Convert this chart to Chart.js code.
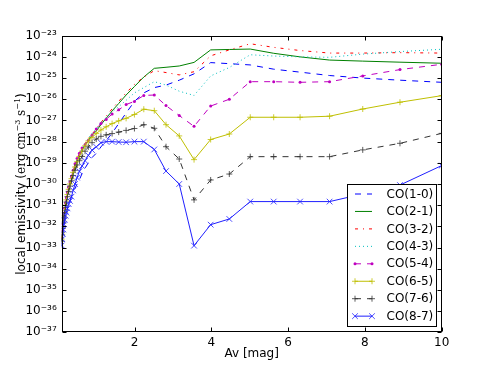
<!DOCTYPE html>
<html>
<head>
<meta charset="utf-8">
<script src="https://cdn.jsdelivr.net/npm/chart.js@4/dist/chart.umd.min.js"></script>
<style>
html,body{margin:0;padding:0;background:#fff;}
#wrap{width:491px;height:370px;position:relative;}
</style>
</head>
<body>
<div id="wrap"><canvas id="c" width="491" height="370"></canvas></div>
<script>
// Av [mag] sample points
const avMag = [0.1, 0.112, 0.126, 0.141, 0.158, 0.178, 0.2, 0.224, 0.251, 0.282, 0.316, 0.355, 0.398, 0.447, 0.501, 0.562, 0.631, 0.708, 0.794, 0.891, 1.0, 1.122, 1.259, 1.413, 1.585, 1.778, 1.995, 2.239, 2.512, 2.818, 3.162, 3.548, 3.981, 4.467, 5.012, 5.623, 6.31, 7.079, 7.943, 8.913, 10.0];

// log10 of local emissivity (erg cm^-3 s^-1)
const co10 = [-33.0,-32.7,-32.45,-32.2,-31.95,-31.75,-31.55,-31.35,-31.15,-30.95,-30.8,-30.6,-30.4,-30.2,-30.0,-29.8,-29.5,-29.25,-29.0,-28.75,-28.55,-28.25,-27.95,-27.6,-27.15,-26.65,-26.1,-25.7,-25.45,-25.33,-25.1,-24.8,-24.27,-24.32,-24.38,-24.58,-24.72,-24.88,-25.0,-25.1,-25.2];
const co21 = [-32.7,-32.35,-32.05,-31.8,-31.55,-31.3,-31.05,-30.8,-30.55,-30.3,-30.05,-29.8,-29.5,-29.2,-28.9,-28.65,-28.4,-28.15,-27.95,-27.7,-27.5,-27.2,-26.9,-26.55,-26.2,-25.8,-25.4,-24.95,-24.54,-24.49,-24.43,-24.26,-23.67,-23.65,-23.63,-23.83,-24.0,-24.15,-24.2,-24.25,-24.3];
const co32 = [-32.6,-32.25,-31.95,-31.7,-31.45,-31.2,-30.95,-30.7,-30.45,-30.2,-29.95,-29.7,-29.4,-29.1,-28.85,-28.6,-28.3,-28.1,-27.85,-27.65,-27.4,-27.1,-26.8,-26.45,-26.1,-25.7,-25.3,-24.95,-24.65,-24.74,-24.85,-24.7,-23.95,-23.67,-23.38,-23.55,-23.7,-23.82,-23.82,-23.8,-23.82];
const co43 = [-32.65,-32.3,-32.0,-31.75,-31.5,-31.25,-31.0,-30.75,-30.5,-30.25,-30.0,-29.75,-29.45,-29.15,-28.9,-28.6,-28.35,-28.1,-27.85,-27.6,-27.4,-27.1,-26.85,-26.6,-26.35,-26.05,-25.7,-25.45,-25.17,-25.33,-25.62,-25.82,-24.9,-24.5,-23.9,-23.96,-24.0,-24.02,-23.87,-23.75,-23.64];
const co54 = [-32.55,-32.2,-31.9,-31.65,-31.4,-31.15,-30.9,-30.65,-30.4,-30.15,-29.9,-29.65,-29.35,-29.05,-28.8,-28.55,-28.3,-28.15,-27.95,-27.7,-27.4,-27.15,-26.95,-26.7,-26.5,-26.25,-26.1,-25.82,-25.8,-26.3,-26.77,-27.28,-26.32,-26.0,-25.17,-25.17,-25.2,-25.17,-24.9,-24.6,-24.35];
const co65 = [-32.6,-32.3,-32.0,-31.75,-31.5,-31.25,-31.0,-30.75,-30.5,-30.25,-30.0,-29.75,-29.45,-29.2,-28.95,-28.7,-28.45,-28.2,-27.97,-27.8,-27.62,-27.45,-27.3,-27.15,-27.02,-26.9,-26.72,-26.47,-26.54,-27.2,-27.73,-28.85,-27.9,-27.64,-26.85,-26.85,-26.85,-26.8,-26.46,-26.14,-25.83];
const co76 = [-32.7,-32.4,-32.1,-31.85,-31.6,-31.35,-31.1,-30.85,-30.6,-30.35,-30.1,-29.85,-29.6,-29.35,-29.1,-28.9,-28.7,-28.45,-28.25,-28.05,-27.88,-27.75,-27.68,-27.62,-27.55,-27.47,-27.38,-27.2,-27.37,-28.24,-28.82,-30.75,-29.81,-29.53,-28.71,-28.71,-28.71,-28.71,-28.39,-28.08,-27.61];
const co87 = [-32.9,-32.6,-32.35,-32.15,-31.9,-31.7,-31.5,-31.35,-31.15,-30.95,-30.8,-30.6,-30.3,-30.0,-29.7,-29.4,-29.15,-28.9,-28.65,-28.4,-28.25,-28.05,-28.0,-28.0,-28.02,-28.03,-28.0,-28.0,-28.37,-29.39,-30.0,-32.91,-31.92,-31.65,-30.83,-30.83,-30.83,-30.83,-30.47,-30.05,-29.13];

const seriesNames = ['CO(1-0)','CO(2-1)','CO(3-2)','CO(4-3)','CO(5-4)','CO(6-5)','CO(7-6)','CO(8-7)'];
const xTicks = [2, 4, 6, 8, 10];
const yTickExp = [-37,-36,-35,-34,-33,-32,-31,-30,-29,-28,-27,-26,-25,-24,-23];
const yTickLabels = ['10⁻³⁷','10⁻³⁶','10⁻³⁵','10⁻³⁴','10⁻³³','10⁻³²','10⁻³¹','10⁻³⁰','10⁻²⁹','10⁻²⁸','10⁻²⁷','10⁻²⁶','10⁻²⁵','10⁻²⁴','10⁻²³'];
const xTitle = 'Av [mag]';

const seriesLog = [co10, co21, co32, co43, co54, co65, co76, co87];

const styles = [
  {color:'#0000ff', dash:[6,6], point:null},
  {color:'#008000', dash:[], point:null},
  {color:'#ff0000', dash:[3,5,1,5], point:null},
  {color:'#00bfbf', dash:[1,3], point:null},
  {color:'#bf00bf', dash:[6,6], point:'circle', r:1.5},
  {color:'#bfbf00', dash:[], point:'cross', r:3},
  {color:'#333333', dash:[6,6], point:'cross', r:3},
  {color:'#2020ff', dash:[], point:'crossRot', r:4}
];

const FONT = '"DejaVu Sans", sans-serif';

const datasets = seriesNames.map((name, i) => {
  const st = styles[i];
  return {
    label: name,
    data: avMag.map((x, j) => ({x: x, y: Math.pow(10, seriesLog[i][j])})),
    borderColor: st.color,
    backgroundColor: st.color,
    borderWidth: 1,
    borderDash: st.dash,
    tension: 0,
    fill: false,
    pointStyle: st.point || 'circle',
    pointRadius: st.point ? st.r : 0,
    pointHoverRadius: 0,
    pointBorderWidth: st.point === 'circle' ? 0 : 0.8,
    pointBorderColor: st.color,
    pointBackgroundColor: st.color,
    order: seriesNames.length - i
  };
});

function drawMarker(ctx, style, r, x, y, color) {
  ctx.save();
  ctx.setLineDash([]);
  ctx.strokeStyle = color; ctx.fillStyle = color; ctx.lineWidth = 0.8;
  ctx.beginPath();
  if (style === 'circle') {
    ctx.arc(x, y, r, 0, Math.PI * 2); ctx.fill();
  } else if (style === 'cross') {
    ctx.moveTo(x - r, y); ctx.lineTo(x + r, y);
    ctx.moveTo(x, y - r); ctx.lineTo(x, y + r); ctx.stroke();
  } else if (style === 'crossRot') {
    const d = r * Math.SQRT1_2;
    ctx.moveTo(x - d, y - d); ctx.lineTo(x + d, y + d);
    ctx.moveTo(x - d, y + d); ctx.lineTo(x + d, y - d); ctx.stroke();
  }
  ctx.restore();
}

const decor = {
  id: 'decor',
  afterDatasetsDraw(chart) {
    const ctx = chart.ctx;
    // legend
    const bx = 347.5, by = 184.5, bw = 89, bh = 142;
    ctx.save();
    ctx.fillStyle = '#fff';
    ctx.fillRect(bx, by, bw, bh);
    ctx.strokeStyle = '#000'; ctx.lineWidth = 1; ctx.setLineDash([]);
    ctx.strokeRect(bx, by, bw, bh);
    chart.data.datasets.forEach((ds, i) => {
      const st = styles[i];
      const y = 194 + i * 17.45;
      const x0 = 355, x1 = 372;
      ctx.save();
      ctx.strokeStyle = st.color; ctx.lineWidth = 1; ctx.setLineDash(st.dash);
      ctx.beginPath(); ctx.moveTo(x0, y); ctx.lineTo(x1, y); ctx.stroke();
      ctx.restore();
      if (st.point) { drawMarker(ctx, st.point, st.r, x0, y, st.color); drawMarker(ctx, st.point, st.r, x1, y, st.color); }
      ctx.fillStyle = '#000';
      ctx.font = '12px ' + FONT;
      ctx.textBaseline = 'middle'; ctx.textAlign = 'left';
      ctx.fillText(ds.label, 386.5, y + 0.5);
    });
    ctx.restore();
  },
  afterDraw(chart) {
    const ctx = chart.ctx;
    const a = chart.chartArea;
    const xs = chart.scales.x, ys = chart.scales.y;
    ctx.save();
    ctx.strokeStyle = '#000'; ctx.lineWidth = 1; ctx.setLineDash([]);
    const L = Math.round(a.left) + 0.5, R = Math.round(a.right) - 0.5, T = Math.round(a.top) + 0.5, B = Math.round(a.bottom) - 0.5;
    ctx.strokeRect(L, T, R - L, B - T);
    ctx.beginPath();
    xTicks.forEach(v => {
      const px = Math.round(xs.getPixelForValue(v)) + 0.5;
      ctx.moveTo(px, B); ctx.lineTo(px, B - 4);
      ctx.moveTo(px, T); ctx.lineTo(px, T + 4);
    });
    yTickExp.forEach(e => {
      const py = Math.round(ys.getPixelForValue(Math.pow(10, e))) + 0.5;
      ctx.moveTo(L, py); ctx.lineTo(L + 4, py);
      ctx.moveTo(R, py); ctx.lineTo(R - 4, py);
    });
    ctx.stroke();
    // y axis title (mixed fonts)
    const runs = [
      {t:'local emissivity (', f:'12px ' + FONT, dy:0},
      {t:'erg cm', f:'12px "DejaVu Serif", serif', dy:0},
      {t:'−3', f:'8px "DejaVu Serif", serif', dy:-5},
      {t:' s', f:'12px "DejaVu Serif", serif', dy:0},
      {t:'−1', f:'8px "DejaVu Serif", serif', dy:-5},
      {t:')', f:'12px ' + FONT, dy:0}
    ];
    let total = 0;
    runs.forEach(r => { ctx.font = r.f; r.w = ctx.measureText(r.t).width; total += r.w; });
    ctx.translate(24.5, (a.top + a.bottom) / 2);
    ctx.rotate(-Math.PI / 2);
    ctx.fillStyle = '#000'; ctx.textBaseline = 'alphabetic'; ctx.textAlign = 'left';
    let cx = -total / 2;
    runs.forEach(r => { ctx.font = r.f; ctx.fillText(r.t, cx, r.dy); cx += r.w; });
    ctx.restore();
  }
};

new Chart(document.getElementById('c'), {
  type: 'line',
  data: { datasets },
  options: {
    responsive: false,
    animation: false,
    devicePixelRatio: 1,
    layout: { padding: { left: 0, top: 35.7, right: 49.3, bottom: 0 } },
    plugins: { legend: { display: false }, tooltip: { enabled: false } },
    scales: {
      x: {
        type: 'linear', min: 0.1, max: 10,
        afterBuildTicks: s => { s.ticks = xTicks.map(v => ({value: v})); },
        afterFit: s => { s.height = 37.7; },
        grid: { display: false, drawTicks: false },
        border: { display: false },
        ticks: { color: '#000', font: { family: FONT, size: 12 }, padding: 3, maxRotation: 0, autoSkip: false,
                  callback: v => String(v) },
        title: { display: true, text: xTitle, color: '#000', font: { family: FONT, size: 12 }, padding: { top: 0, bottom: 9 } }
      },
      y: {
        type: 'logarithmic', min: 1e-37, max: 1e-23,
        afterBuildTicks: s => { s.ticks = yTickExp.map(e => ({value: Math.pow(10, e)})); },
        afterFit: s => { s.width = 61.7; },
        grid: { display: false, drawTicks: false },
        border: { display: false },
        ticks: { color: '#000', font: { family: FONT, size: 12 }, padding: 5, autoSkip: false,
                  callback: (v) => yTickLabels[yTickExp.indexOf(Math.round(Math.log10(v)))] }
      }
    }
  },
  plugins: [decor]
});
</script>
</body>
</html>
